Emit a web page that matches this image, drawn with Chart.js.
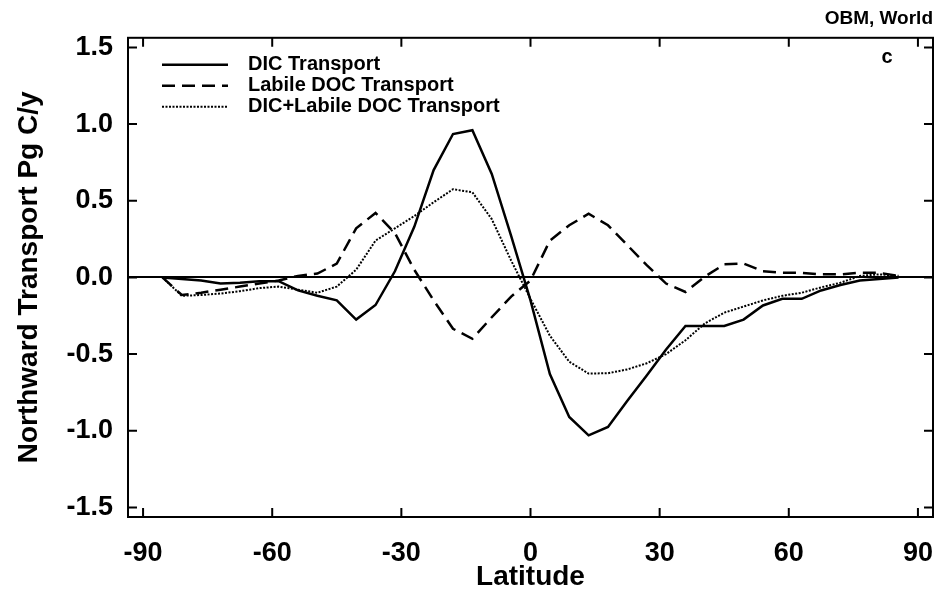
<!DOCTYPE html>
<html lang="en">
<head>
  <meta charset="utf-8">
  <title>OBM, World - Northward Transport</title>
  <script src="https://cdn.jsdelivr.net/npm/chart.js@4"></script>
  <style>
body {
  margin: 0;
  background: #fff;
}
#content {
  position: relative;
  width: 936px;
  height: 590px;
}
  </style>
</head>
<body>
  <div id="content">
    <canvas id="transport-chart"></canvas>
  </div>
  <script type="text/javascript">
// latitude of each model point (4.5 degree grid)
const latitude = [-85.5, -81, -76.5, -72, -67.5, -63, -58.5, -54, -49.5, -45,
  -40.5, -36, -31.5, -27, -22.5, -18, -13.5, -9, -4.5, 0,
  4.5, 9, 13.5, 18, 22.5, 27, 31.5, 36, 40.5, 45,
  49.5, 54, 58.5, 63, 67.5, 72, 76.5, 81, 85.5];

// Pg C/y
const dicTransport = [0, -0.01, -0.02, -0.04, -0.035, -0.025, -0.025, -0.085, -0.12, -0.15,
  -0.275, -0.18, 0.04, 0.33, 0.70, 0.935, 0.96, 0.675, 0.27, -0.15,
  -0.63, -0.91, -1.03, -0.975, -0.805, -0.64, -0.47, -0.317, -0.317, -0.317,
  -0.275, -0.183, -0.14, -0.14, -0.085, -0.05, -0.02, -0.01, 0];

const docTransport = [0, -0.115, -0.10, -0.08, -0.06, -0.04, -0.02, 0.01, 0.025, 0.09,
  0.32, 0.42, 0.29, 0.05, -0.15, -0.335, -0.40, -0.26, -0.125, -0.02,
  0.24, 0.34, 0.415, 0.34, 0.21, 0.08, -0.04, -0.095, 0.005, 0.085,
  0.09, 0.04, 0.03, 0.03, 0.02, 0.02, 0.03, 0.03, 0.01];

const sumTransport = [0, -0.12, -0.115, -0.105, -0.09, -0.07, -0.06, -0.08, -0.10, -0.06,
  0.05, 0.24, 0.32, 0.40, 0.49, 0.575, 0.555, 0.38, 0.11, -0.14,
  -0.38, -0.55, -0.627, -0.625, -0.60, -0.56, -0.50, -0.41, -0.30, -0.23,
  -0.19, -0.15, -0.12, -0.10, -0.065, -0.035, 0.01, 0.02, 0.01];

const xTicks = [-90, -60, -30, 0, 30, 60, 90];
const yTicks = [-1.5, -1.0, -0.5, 0.0, 0.5, 1.0, 1.5];

const FONT = "'Liberation Sans', Arial, Helvetica, sans-serif";

function points(ys) {
  return latitude.map((x, i) => ({ x: x, y: ys[i] }));
}

// frame, inward ticks on all four sides, the legend and the panel letter
const framePlugin = {
  id: 'frame',
  afterDatasetsDraw(chart) {
    const ctx = chart.ctx;
    const a = chart.chartArea;
    const xs = chart.scales.x, ys = chart.scales.y;
    ctx.save();
    ctx.strokeStyle = '#000';
    ctx.lineWidth = 2;
    ctx.strokeRect(a.left, a.top, a.right - a.left, a.bottom - a.top);

    ctx.beginPath();
    xTicks.forEach(v => {
      const px = xs.getPixelForValue(v);
      ctx.moveTo(px, a.bottom); ctx.lineTo(px, a.bottom - 9);
      ctx.moveTo(px, a.top); ctx.lineTo(px, a.top + 9);
    });
    yTicks.forEach(v => {
      const py = ys.getPixelForValue(v);
      ctx.moveTo(a.left, py); ctx.lineTo(a.left + 9, py);
      ctx.moveTo(a.right, py); ctx.lineTo(a.right - 9, py);
    });
    ctx.stroke();

    // legend
    const lx = a.left + 34;
    chart.data.datasets.forEach((ds, i) => {
      const y = a.top + 27 + i * 21;
      ctx.beginPath();
      ctx.lineWidth = ds.borderWidth;
      ctx.setLineDash(ds.borderDash || []);
      ctx.moveTo(lx, y);
      ctx.lineTo(lx + 66, y);
      ctx.stroke();
      ctx.setLineDash([]);
      ctx.fillStyle = '#000';
      ctx.font = 'bold 20px ' + FONT;
      ctx.textBaseline = 'middle';
      ctx.textAlign = 'left';
      ctx.fillText(ds.label, lx + 86, y);
    });

    ctx.font = 'bold 20px ' + FONT;
    ctx.textAlign = 'center';
    ctx.fillText('c', a.right - 46, a.top + 20);
    ctx.restore();
  }
};

const data = {
  datasets: [
    {
      label: 'DIC Transport',
      data: points(dicTransport),
      borderColor: '#000',
      borderWidth: 2.5
    },
    {
      label: 'Labile DOC Transport',
      data: points(docTransport),
      borderColor: '#000',
      borderWidth: 2.5,
      borderDash: [13, 7]
    },
    {
      label: 'DIC+Labile DOC Transport',
      data: points(sumTransport),
      borderColor: '#000',
      borderWidth: 2,
      borderDash: [2, 1.5]
    }
  ]
};

const config = {
  type: 'line',
  data: data,
  options: {
    responsive: true,
    maintainAspectRatio: false,
    animation: false,
    layout: {
      padding: { right: 3 }
    },
    elements: {
      point: { radius: 0 },
      line: { tension: 0, fill: false }
    },
    scales: {
      x: {
        type: 'linear',
        min: -93.5,
        max: 93.5,
        afterBuildTicks: (s) => { s.ticks = xTicks.map(v => ({ value: v })); },
        // fixed height, and don't let the end labels push the plot inwards
        afterFit: (s) => { s.height = 73; s.paddingLeft = 0; s.paddingRight = 0; },
        grid: { display: false },
        border: { display: false },
        ticks: {
          color: '#000',
          padding: 12,
          font: { family: FONT, size: 27, weight: 'bold' }
        },
        title: {
          display: true,
          text: 'Latitude',
          color: '#000',
          padding: { top: 0, bottom: 0 },
          font: { family: FONT, size: 28, weight: 'bold', lineHeight: 0.9 }
        }
      },
      y: {
        min: -1.5625,
        max: 1.5625,
        afterBuildTicks: (s) => { s.ticks = yTicks.map(v => ({ value: v })); },
        afterFit: (s) => { s.width = 128; s.paddingTop = 0; s.paddingBottom = 0; },
        grid: {
          drawTicks: false,
          color: (c) => (c.tick && c.tick.value === 0) ? '#000' : 'rgba(0,0,0,0)',
          lineWidth: 2
        },
        border: { display: false },
        ticks: {
          color: '#000',
          padding: 15,
          font: { family: FONT, size: 27, weight: 'bold' },
          callback: (v) => v.toFixed(1)
        },
        title: {
          display: true,
          text: 'Northward Transport Pg C/y',
          color: '#000',
          padding: { top: 12, bottom: 0 },
          font: { family: FONT, size: 28, weight: 'bold' }
        }
      }
    },
    plugins: {
      legend: { display: false },
      tooltip: { enabled: false },
      title: {
        display: true,
        text: 'OBM, World',
        align: 'end',
        color: '#000',
        padding: { top: 7, bottom: 8 },
        font: { family: FONT, size: 19, weight: 'bold' }
      }
    }
  },
  plugins: [framePlugin]
};

const transportChart = new Chart(document.getElementById('transport-chart'), config);
</script>
</body>
</html>
